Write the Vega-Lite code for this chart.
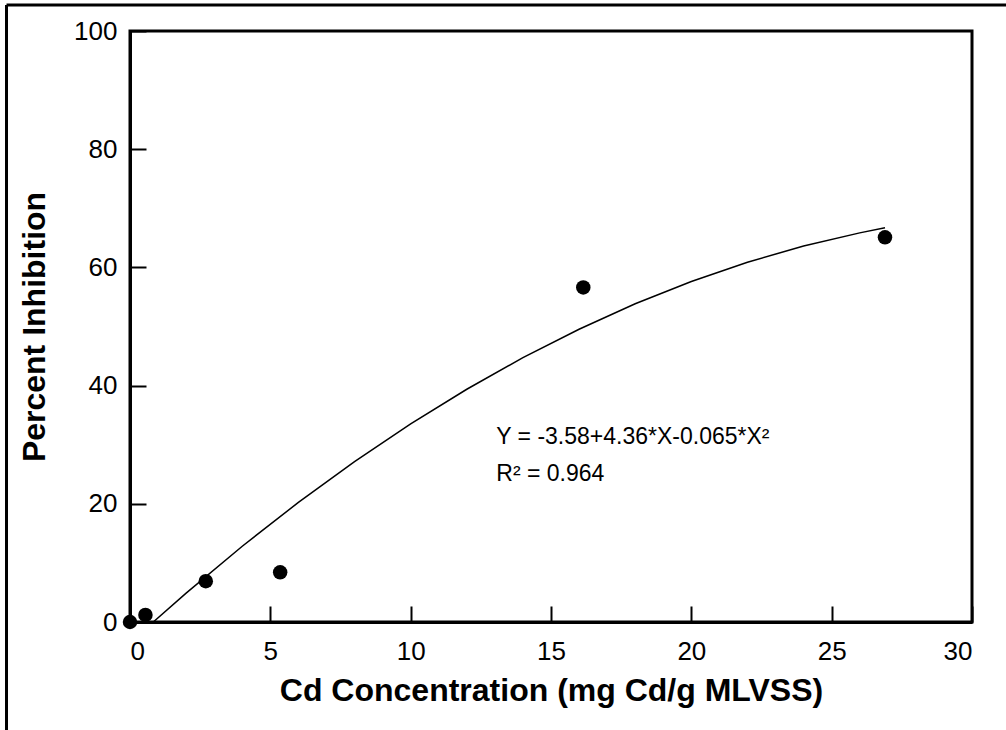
{
  "$schema": "https://vega.github.io/schema/vega-lite/v6.json",
  "width": 842,
  "height": 591,
  "autosize": {"type": "none"},
  "padding": {"left": 130, "top": 31, "right": 34, "bottom": 108},
  "background": "white",
  "config": {
    "font": "Liberation Sans",
    "view": {"stroke": "black", "strokeWidth": 3},
    "axis": {
      "grid": false,
      "domainColor": "black",
      "domainWidth": 3,
      "tickColor": "black",
      "tickWidth": 2,
      "tickSize": -16,
      "labelFont": "Liberation Sans",
      "labelFontSize": 26,
      "labelColor": "black",
      "titleFont": "Liberation Sans",
      "titleFontSize": 32,
      "titleFontWeight": "bold",
      "titleColor": "black"
    }
  },
  "datasets": {
    "obs": [
      {"conc": 0, "inh": 0},
      {"conc": 0.55, "inh": 1.2},
      {"conc": 2.7, "inh": 6.9},
      {"conc": 5.35, "inh": 8.4},
      {"conc": 16.15, "inh": 56.6},
      {"conc": 26.9, "inh": 65.1}
    ],
    "fit": [
      {"conc": 0.83, "inh": 0.0},
      {"conc": 2, "inh": 4.88},
      {"conc": 4, "inh": 12.82},
      {"conc": 6, "inh": 20.24},
      {"conc": 8, "inh": 27.14},
      {"conc": 10, "inh": 33.52},
      {"conc": 12, "inh": 39.38},
      {"conc": 14, "inh": 44.72},
      {"conc": 16, "inh": 49.54},
      {"conc": 18, "inh": 53.84},
      {"conc": 20, "inh": 57.62},
      {"conc": 22, "inh": 60.88},
      {"conc": 24, "inh": 63.62},
      {"conc": 26, "inh": 65.84},
      {"conc": 26.9, "inh": 66.7}
    ],
    "notes": [
      {"conc": 13.05, "inh": 31.3, "label": "Y = -3.58+4.36*X-0.065*X²"},
      {"conc": 13.05, "inh": 25.0, "label": "R² = 0.964"}
    ],
    "frame": [
      {"x1": -4.4, "x2": 31.3, "y1": 104.4, "y2": 104.4},
      {"x1": -4.4, "x2": -4.4, "y1": 104.4, "y2": -18.5}
    ]
  },
  "layer": [
    {
      "data": {"name": "frame"},
      "mark": {"type": "rule", "color": "black", "strokeWidth": 3, "clip": false},
      "encoding": {
        "x": {"field": "x1", "type": "quantitative", "scale": {"domain": [0, 30], "nice": false, "zero": false}},
        "x2": {"field": "x2"},
        "y": {"field": "y1", "type": "quantitative", "scale": {"domain": [0, 100], "nice": false, "zero": false}},
        "y2": {"field": "y2"}
      }
    },
    {
      "data": {"name": "fit"},
      "mark": {"type": "line", "color": "black", "strokeWidth": 1.5},
      "encoding": {
        "x": {"field": "conc", "type": "quantitative", "scale": {"domain": [0, 30], "nice": false, "zero": false},
          "axis": {"title": "Cd Concentration (mg Cd/g MLVSS)", "values": [0, 5, 10, 15, 20, 25, 30], "labelPadding": 32, "titlePadding": 11}},
        "y": {"field": "inh", "type": "quantitative", "scale": {"domain": [0, 100], "nice": false, "zero": false},
          "axis": {"title": "Percent Inhibition", "values": [0, 20, 40, 60, 80, 100], "labelPadding": 29, "titlePadding": 22}}
      }
    },
    {
      "data": {"name": "obs"},
      "mark": {"type": "point", "filled": true, "color": "black", "opacity": 1, "size": 210, "clip": false},
      "encoding": {
        "x": {"field": "conc", "type": "quantitative"},
        "y": {"field": "inh", "type": "quantitative"}
      }
    },
    {
      "data": {"name": "notes"},
      "mark": {"type": "text", "align": "left", "baseline": "middle", "fontSize": 23, "font": "Liberation Sans", "color": "black"},
      "encoding": {
        "x": {"field": "conc", "type": "quantitative"},
        "y": {"field": "inh", "type": "quantitative"},
        "text": {"field": "label"}
      }
    }
  ]
}
